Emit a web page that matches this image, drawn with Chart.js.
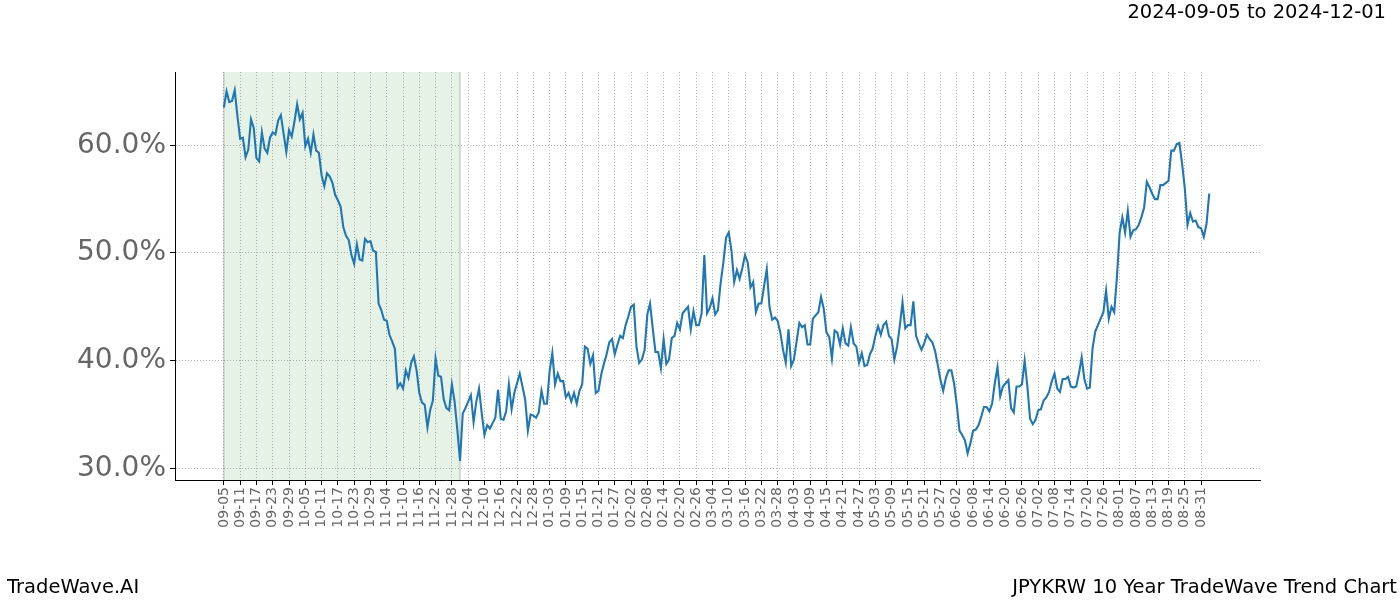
<!DOCTYPE html>
<html>
<head>
<meta charset="utf-8">
<script src="https://cdn.jsdelivr.net/npm/chart.js@4"></script>
<style>
  html, body { margin: 0; padding: 0; background: #fff; }
  #wrap { position: relative; width: 1400px; height: 600px; font-family: "DejaVu Sans", sans-serif; }
  canvas { position: absolute; left: 0; top: 0; }
  .txt { position: absolute; font-size: 19.5px; line-height: 20px; color: #000; white-space: nowrap; }
</style>
</head>
<body>
<div id="wrap">
  <canvas id="c" width="1400" height="600"></canvas>
  <div class="txt" style="right:14px; top:2px;">2024-09-05 to 2024-12-01</div>
  <div class="txt" style="left:7px; top:577px;">TradeWave.AI</div>
  <div class="txt" style="right:3px; top:577px;">JPYKRW 10 Year TradeWave Trend Chart</div>
</div>
<script>
// Daily values, one per calendar day starting 2024-09-05 (percent)
const values = [
  63.5, 65.0, 64.0, 64.1, 65.1, 62.7, 60.6, 60.7, 58.9, 59.6,
  62.4, 61.6, 58.8, 58.5, 61.2, 59.7, 59.3, 60.7, 61.2, 61.0,
  62.3, 62.8, 61.1, 59.4, 61.4, 60.8, 62.2, 63.8, 62.4, 63.0,
  59.9, 60.6, 59.3, 61.0, 59.5, 59.3, 57.2, 56.2, 57.4, 57.1,
  56.5, 55.4, 54.9, 54.3, 52.4, 51.6, 51.2, 49.8, 49.0, 50.8,
  49.4, 49.3, 51.3, 51.0, 51.1, 50.2, 50.1, 45.3, 44.7, 43.8,
  43.7, 42.4, 41.8, 41.1, 37.5, 37.9, 37.4, 39.1, 38.4, 39.8,
  40.4, 39.1, 37.0, 36.1, 35.9, 33.8, 35.4, 36.3, 40.2, 38.6,
  38.5, 36.4, 35.6, 35.4, 37.8, 36.2, 33.6, 30.7, 35.1,
  35.6, 36.2, 36.8, 34.3, 36.2, 37.4, 35.1, 33.1, 34.0, 33.7, 34.2,
  34.7, 37.3, 34.6, 34.5, 35.3, 37.8, 35.5, 37.0, 37.9, 38.8,
  37.6, 36.4, 33.5, 35.0, 34.9, 34.7, 35.2, 37.2, 36.0, 36.0,
  39.0, 40.7, 37.8, 38.8, 38.1, 38.1, 36.6, 37.0, 36.2, 37.0,
  36.0, 37.2, 37.8, 41.3, 41.1, 39.7, 40.5, 37.0, 37.2, 38.7,
  39.7, 40.6, 41.7, 42.0, 40.6, 41.5, 42.3, 42.1, 43.3, 44.1,
  45.0, 45.2, 41.3, 39.8, 40.1, 41.0, 44.3, 45.3, 43.0, 40.8,
  40.8, 39.3, 42.0, 39.7, 40.1, 42.1, 42.3, 43.5, 42.9, 44.4,
  44.7, 45.0, 42.9, 44.6, 43.3, 43.3, 44.4, 49.8, 44.4, 44.9, 45.8,
  44.3, 44.7, 47.2, 49.1, 51.4, 51.9, 50.2, 47.3, 48.4, 47.6,
  48.6, 49.8, 49.1, 46.8, 47.3, 44.5, 45.3, 45.3, 46.9, 48.5,
  45.0, 43.8, 44.0, 43.7, 42.6, 41.0, 39.8, 42.9, 39.5, 40.1,
  41.8, 43.5, 43.1, 43.3, 41.5, 41.5, 43.9, 44.2, 44.5, 45.9,
  44.8, 42.6, 42.2, 40.2, 42.8, 42.6, 41.5, 43.0, 41.6, 41.4,
  43.1, 41.6, 41.3, 39.8, 40.7, 39.5, 39.6, 40.6, 41.1, 42.3,
  43.2, 42.4, 43.3, 43.6, 42.3, 42.0, 40.1, 41.3, 43.2, 45.4,
  43.0, 43.3, 43.3, 45.5, 42.3, 41.6, 41.0, 41.6, 42.4, 42.0,
  41.7, 40.9, 39.6, 38.2, 37.2, 38.4, 39.1, 39.1, 37.9, 35.9, 33.5, 33.1,
  32.6, 31.4, 32.3, 33.5, 33.6, 34.0, 34.8, 35.7, 35.7, 35.3,
  36.0, 37.9, 39.4, 36.7, 37.6, 37.9, 38.2, 35.6, 35.2, 37.6,
  37.6, 37.8, 40.0, 37.6, 34.6, 34.1, 34.5, 35.4, 35.5, 36.3,
  36.6, 37.1, 38.1, 38.8, 37.4, 37.1, 38.3, 38.3, 38.5, 37.6,
  37.5, 37.6, 38.8, 40.3, 38.3, 37.4, 37.5, 41.1, 42.7, 43.3,
  43.9, 44.5, 46.5, 43.9, 45.0, 44.5, 47.8, 51.9, 53.3, 51.9,
  53.9, 51.5, 52.1, 52.2, 52.6, 53.3, 54.2, 56.6, 56.1, 55.5,
  55.0, 55.0, 56.3, 56.3, 56.5, 56.7, 59.5, 59.5, 60.1, 60.2,
  58.3, 56.0, 52.6, 53.7, 52.9, 53.0, 52.4, 52.3, 51.5, 52.7,
  55.5
];

// X tick labels every 6 days starting at day 0 (2024-09-05)
const tickLabels = [
  "09-05","09-11","09-17","09-23","09-29","10-05","10-11","10-17","10-23","10-29",
  "11-04","11-10","11-16","11-22","11-28","12-04","12-10","12-16","12-22","12-28",
  "01-03","01-09","01-15","01-21","01-27","02-02","02-08","02-14","02-20","02-26",
  "03-04","03-10","03-16","03-22","03-28","04-03","04-09","04-15","04-21","04-27",
  "05-03","05-09","05-15","05-21","05-27","06-02","06-08","06-14","06-20","06-26",
  "07-02","07-08","07-14","07-20","07-26","08-01","08-07","08-13","08-19","08-25",
  "08-31"
];
const tickStep = 6;

// Y ticks (percent)
const yTicks = [30, 40, 50, 60];

// Highlighted period: 2024-09-05 (day 0) to 2024-12-01 (day 87)
const shadeStart = 0;
const shadeEnd = 87;

const points = values.map((v, i) => ({ x: i, y: v }));

const shadePlugin = {
  id: 'shade',
  beforeDraw(chart) {
    const { ctx, chartArea, scales } = chart;
    const x0 = scales.x.getPixelForValue(shadeStart);
    const x1 = scales.x.getPixelForValue(shadeEnd);
    ctx.save();
    ctx.fillStyle = 'rgba(0,128,0,0.1)';
    ctx.fillRect(x0, chartArea.top, x1 - x0, chartArea.bottom - chartArea.top);
    ctx.strokeStyle = 'rgba(120,140,120,0.35)';
    ctx.lineWidth = 1.5;
    ctx.beginPath();
    ctx.moveTo(x0, chartArea.top); ctx.lineTo(x0, chartArea.bottom);
    ctx.moveTo(x1, chartArea.top); ctx.lineTo(x1, chartArea.bottom);
    ctx.stroke();
    ctx.restore();
  }
};

new Chart(document.getElementById('c'), {
  type: 'line',
  data: {
    datasets: [{
      data: points,
      borderColor: '#1f77b4',
      borderWidth: 2.1,
      pointRadius: 0,
      tension: 0,
      fill: false
    }]
  },
  options: {
    responsive: false,
    animation: false,
    events: [],
    layout: { padding: { left: 0, right: 140, top: 72, bottom: 0 } },
    plugins: { legend: { display: false }, tooltip: { enabled: false } },
    scales: {
      x: {
        type: 'linear',
        min: -18,
        max: 381.7,
        afterBuildTicks(scale) {
          scale.ticks = tickLabels.map((_, i) => ({ value: i * tickStep }));
        },
        afterFit(scale) { scale.height = 120; },
        ticks: {
          autoSkip: false,
          minRotation: 90,
          maxRotation: 90,
          padding: 2,
          color: '#666',
          font: { family: 'DejaVu Sans', size: 14 },
          callback(value) { return tickLabels[Math.round(value / tickStep)]; }
        },
        grid: {
          color: 'rgba(0,0,0,0.35)',
          lineWidth: 0.8,
          tickColor: '#000',
          tickWidth: 1,
          tickLength: 5,
          tickBorderDash: []
        },
        border: { display: true, color: '#000', width: 1, dash: [1, 2] }
      },
      y: {
        type: 'linear',
        min: 28.92,
        max: 66.8,
        afterBuildTicks(scale) {
          scale.ticks = yTicks.map(v => ({ value: v }));
        },
        afterFit(scale) { scale.width = 175; },
        ticks: {
          padding: 4,
          color: '#666',
          font: { family: 'DejaVu Sans', size: 28 },
          callback(value) { return value.toFixed(1) + '%'; }
        },
        grid: {
          color: 'rgba(0,0,0,0.35)',
          lineWidth: 0.8,
          tickColor: '#000',
          tickWidth: 1,
          tickLength: 5,
          tickBorderDash: []
        },
        border: { display: true, color: '#000', width: 1, dash: [1, 2] }
      }
    }
  },
  plugins: [shadePlugin]
});
</script>
</body>
</html>
